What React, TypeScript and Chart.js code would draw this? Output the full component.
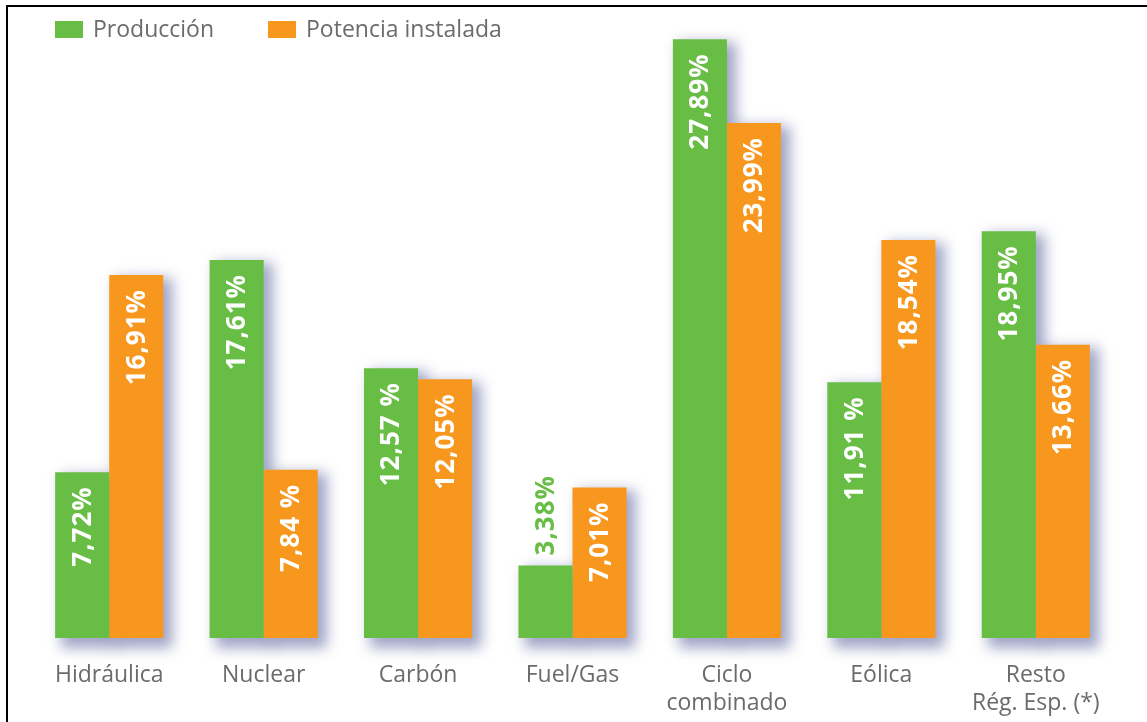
import { useEffect, useRef } from 'react';
import { Chart, registerables } from 'chart.js';

Chart.register(...registerables);

// Generation technologies
const categories: (string | string[])[] = [
  'Hidráulica',
  'Nuclear',
  'Carbón',
  'Fuel/Gas',
  ['Ciclo', 'combinado'],
  'Eólica',
  ['Resto', 'Rég. Esp. (*)'],
];

// Share of production (%)
const produccion = [7.72, 17.61, 12.57, 3.38, 27.89, 11.91, 18.95];
// Share of installed capacity (%)
const potencia = [16.91, 7.84, 12.05, 7.01, 23.99, 18.54, 13.66];

// Labels written with a space before the percent sign
const produccionSpaced = [false, false, true, false, false, true, false];
const potenciaSpaced = [false, true, false, false, false, false, false];

const seriesNames = ['Producción', 'Potencia instalada'];
const GREEN = '#68bd45';
const ORANGE = '#f7971e';
const FONT = "'Open Sans', sans-serif";

const fmt = (v: number, spaced: boolean) =>
  v.toFixed(2).replace('.', ',') + (spaced ? ' ' : '') + '%';

// Soft drop shadow behind the bars, then the rotated value labels
const barDecor = {
  id: 'barDecor',
  beforeDatasetsDraw(chart: any) {
    const ctx = chart.ctx;
    ctx.save();
    ctx.filter = 'blur(7px)';
    ctx.fillStyle = 'rgba(80, 90, 150, 0.55)';
    chart.data.datasets.forEach((_ds: any, di: number) => {
      const meta = chart.getDatasetMeta(di);
      meta.data.forEach((bar: any) => {
        const w = bar.width;
        const h = bar.base - bar.y;
        ctx.fillRect(bar.x - w / 2 + 6, bar.y + 3, w + 3, h + 7);
      });
    });
    ctx.restore();
  },
  afterDatasetsDraw(chart: any) {
    const ctx = chart.ctx;
    const spacedSets = [produccionSpaced, potenciaSpaced];
    chart.data.datasets.forEach((ds: any, di: number) => {
      const meta = chart.getDatasetMeta(di);
      meta.data.forEach((bar: any, i: number) => {
        const text = fmt(ds.data[i], spacedSets[di][i]);
        ctx.save();
        ctx.font = `bold 26px ${FONT}`;
        (ctx as any).letterSpacing = '1px';
        const w = ctx.measureText(text).width;
        const h = bar.base - bar.y;
        ctx.textBaseline = 'middle';
        if (h >= w + 26) {
          ctx.translate(bar.x, bar.y + 14);
          ctx.rotate(-Math.PI / 2);
          ctx.textAlign = 'right';
          ctx.fillStyle = '#ffffff';
        } else {
          ctx.translate(bar.x, bar.y - 10);
          ctx.rotate(-Math.PI / 2);
          ctx.textAlign = 'left';
          ctx.fillStyle = ds.backgroundColor;
        }
        ctx.fillText(text, 0, 1);
        ctx.restore();
      });
    });
  },
};

// Legend in the top-left corner and the frame lines
const overlay = {
  id: 'overlay',
  afterDraw(chart: any) {
    const ctx = chart.ctx;
    ctx.save();
    ctx.fillStyle = '#000';
    ctx.fillRect(6, 5, chart.width - 6, 2);
    ctx.fillRect(6, 5, 2, chart.height - 5);

    ctx.font = `23px ${FONT}`;
    ctx.textBaseline = 'middle';
    ctx.textAlign = 'left';
    let x = 55;
    chart.data.datasets.forEach((ds: any) => {
      ctx.fillStyle = ds.backgroundColor;
      ctx.fillRect(x, 21, 28, 17);
      ctx.fillStyle = '#6b6b6b';
      ctx.fillText(ds.label, x + 38, 30);
      x += 38 + ctx.measureText(ds.label).width + 54;
    });
    ctx.restore();
  },
};

export default function App() {
  const ref = useRef<HTMLCanvasElement>(null);

  useEffect(() => {
    if (!ref.current) return;
    const chart = new Chart(ref.current, {
      type: 'bar',
      data: {
        labels: categories,
        datasets: [
          { label: seriesNames[0], data: produccion, backgroundColor: GREEN },
          { label: seriesNames[1], data: potencia, backgroundColor: ORANGE },
        ],
      },
      options: {
        animation: false,
        responsive: true,
        maintainAspectRatio: false,
        layout: { padding: { left: 32, right: 34, top: 37, bottom: 0 } },
        datasets: { bar: { categoryPercentage: 0.7, barPercentage: 1 } },
        plugins: {
          legend: { display: false },
          tooltip: { enabled: false },
        },
        scales: {
          x: {
            grid: { display: false, drawTicks: false },
            border: { display: false },
            ticks: {
              color: '#6b6b6b',
              font: { family: FONT, size: 23 },
              padding: 24,
              maxRotation: 0,
              autoSkip: false,
            },
            afterFit: (scale: any) => {
              scale.height = 84;
            },
          },
          y: {
            display: false,
            min: 0,
            max: 28,
          },
        },
      },
      plugins: [barDecor, overlay],
    });
    return () => chart.destroy();
  }, []);

  return (
    <div
      style={{
        position: 'fixed',
        left: 0,
        top: 0,
        width: 1147,
        height: 722,
        background: '#ffffff',
      }}
    >
      <canvas ref={ref} />
    </div>
  );
}
